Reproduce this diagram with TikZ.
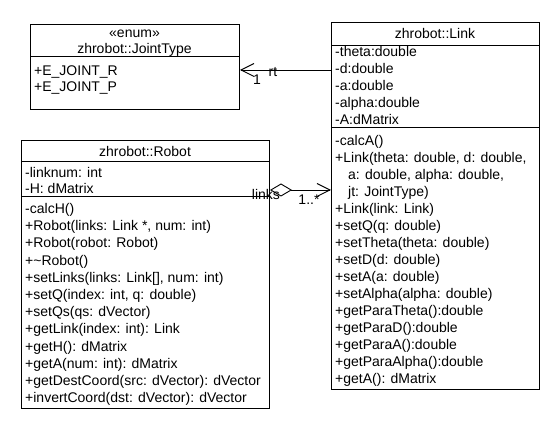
\documentclass[tikz,border=0pt]{standalone}
\usepackage{fontspec}
\setmainfont{Liberation Sans}
\usetikzlibrary{arrows.meta}
\newcommand{\umlfont}{\fontsize{14}{17}\selectfont}
\tikzset{
  umlbox/.style={draw, line width=1pt, inner sep=0pt, anchor=north west},
  member/.style={anchor=base west, inner sep=0pt, font=\umlfont},
  heading/.style={anchor=base, inner sep=0pt, font=\umlfont},
  lbl/.style={inner sep=0pt, font=\umlfont},
  sep/.style={line width=1pt},
  assoc/.style={line width=0.9pt},
  openhead/.style={-{Straight Barb[length=13pt,width=13pt,line width=0.9pt]}},
  aggr/.style={{Diamond[open,length=22pt,width=13pt,line width=0.9pt]}-{Straight Barb[length=13pt,width=13pt,line width=0.9pt]}}
}
\begin{document}
\begin{tikzpicture}[x=1pt,y=-1pt]
\useasboundingbox[fill=white] (0,0) rectangle (560,430);

% ---------- zhrobot::JointType ----------
\node[umlbox, minimum width=209pt, minimum height=85pt] (jt) at (30,24) {};
\node[heading] (jtst) at (134.5,37.5) {«enum»};
\node[heading] (jtname) at (134.5,54) {zhrobot::JointType};
\draw[sep] (30,57) -- (239,57);
\node[member] (jtr) at (34,75.5) {+E\_JOINT\_R};
\node[member] (jtp) at (34,91.5) {+E\_JOINT\_P};

% ---------- zhrobot::Link ----------
\node[umlbox, minimum width=208pt, minimum height=367pt] (link) at (331,22) {};
\node[heading] (linkname) at (435,39) {zhrobot::Link};
\draw[sep] (331,46) -- (539,46);
\foreach \t [count=\i from 0] in {-theta:double,-d:double,-a:double,-alpha:double,-A:dMatrix}
  \node[member] (la\i) at (335,{57+17*\i}) {\t};
\draw[sep] (331,128) -- (539,128);
\foreach \t/\dx [count=\i from 0] in {
  -calcA()/0,
  {+Link(theta: double, d: double,}/0,
  {a: double, alpha: double,}/13,
  {jt: JointType)}/13,
  +Link(link: Link)/0,
  +setQ(q: double)/0,
  +setTheta(theta: double)/0,
  +setD(d: double)/0,
  +setA(a: double)/0,
  +setAlpha(alpha: double)/0,
  +getParaTheta():double/0,
  +getParaD():double/0,
  +getParaA():double/0,
  +getParaAlpha():double/0,
  +getA(): dMatrix/0}
  \node[member] (lm\i) at ({335+\dx},{145.5+17*\i}) {\t};

% ---------- zhrobot::Robot ----------
\node[umlbox, minimum width=248pt, minimum height=268pt] (robot) at (21,140) {};
\node[heading] (robotname) at (145,157) {zhrobot::Robot};
\draw[sep] (21,162) -- (269,162);
\node[member] (ra0) at (25,177.5) {-linknum: int};
\node[member] (ra1) at (25,194) {-H: dMatrix};
\draw[sep] (21,197) -- (269,197);
\foreach \t [count=\i from 0] in {
  -calcH(),
  {+Robot(links: Link *, num: int)},
  +Robot(robot: Robot),
  +\textasciitilde Robot(),
  {+setLinks(links: Link[], num: int)},
  {+setQ(index: int, q: double)},
  +setQs(qs: dVector),
  +getLink(index: int): Link,
  +getH(): dMatrix,
  +getA(num: int): dMatrix,
  +getDestCoord(src: dVector): dVector,
  +invertCoord(dst: dVector): dVector}
  \node[member] (rm\i) at (25,{213.5+17.2*\i}) {\t};

% ---------- connectors ----------
\coordinate (rtY) at (0,70);
\coordinate (aggY) at (0,190);
\draw[assoc, openhead] (link.west |- rtY) -- (jt.east |- rtY);
\node[lbl] (rtmult) at (257,80) {1};
\node[lbl] (rtrole) at (273,72) {rt};

\draw[assoc, aggr] (robot.east |- aggY) -- (link.west |- aggY);
\node[lbl] (linksrole) at (266,194) {links};
\node[lbl] (linksmult) at (309,200) {1..*};
\end{tikzpicture}
\end{document}
